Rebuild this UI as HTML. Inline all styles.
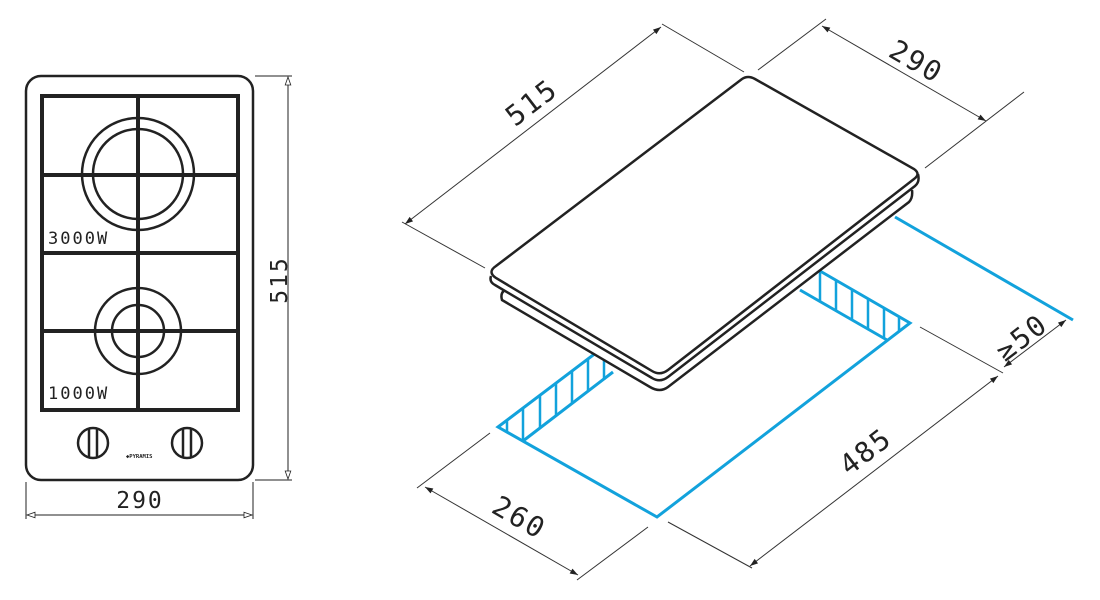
<!DOCTYPE html>
<html><head><meta charset="utf-8"><style>
html,body{margin:0;padding:0;background:#fff;}
svg{display:block;}
text{font-family:"DejaVu Sans Mono","Liberation Mono",monospace;fill:#222;}
</style></head><body>
<svg width="1100" height="600" viewBox="0 0 1100 600" xmlns="http://www.w3.org/2000/svg">
<defs>
<marker id="a" viewBox="0 0 10 10" refX="10" refY="5" markerWidth="12" markerHeight="8" orient="auto-start-reverse" markerUnits="userSpaceOnUse"><path d="M0,1.5 L10,5 L0,8.5 z" fill="#222"/></marker>
<marker id="o" viewBox="0 0 10 10" refX="10" refY="5" markerWidth="12" markerHeight="8" orient="auto-start-reverse" markerUnits="userSpaceOnUse"><path d="M0,1.5 L10,5 L0,8.5 z" fill="#fff" stroke="#222" stroke-width="1"/></marker>
</defs>
<!-- LEFT VIEW -->
<rect x="26" y="76" width="227" height="404" rx="15" fill="none" stroke="#222" stroke-width="2.5"/>
<rect x="42" y="96" width="196" height="314" fill="none" stroke="#222" stroke-width="4"/>
<circle cx="138" cy="174" r="56" fill="none" stroke="#222" stroke-width="2.5"/>
<circle cx="138" cy="174" r="45" fill="none" stroke="#222" stroke-width="2.5"/>
<circle cx="138" cy="331" r="43" fill="none" stroke="#222" stroke-width="2.5"/>
<circle cx="138" cy="331" r="26" fill="none" stroke="#222" stroke-width="2.5"/>
<line x1="138" y1="96" x2="138" y2="410" stroke="#222" stroke-width="4"/>
<line x1="42" y1="175" x2="238" y2="175" stroke="#222" stroke-width="4"/>
<line x1="42" y1="253" x2="238" y2="253" stroke="#222" stroke-width="4"/>
<line x1="42" y1="331" x2="238" y2="331" stroke="#222" stroke-width="4"/>
<text x="48" y="244" font-size="17" letter-spacing="2">3000W</text>
<text x="48" y="399" font-size="17" letter-spacing="2">1000W</text>
<g fill="none" stroke="#222" stroke-width="2.5">
<circle cx="93" cy="443" r="15"/><line x1="89" y1="429" x2="89" y2="457"/><line x1="97" y1="429" x2="97" y2="457"/>
<circle cx="187" cy="443" r="15"/><line x1="183" y1="429" x2="183" y2="457"/><line x1="191" y1="429" x2="191" y2="457"/>
</g>
<text x="126" y="458" font-size="5.5" font-family="Liberation Sans" font-weight="bold">◆PYRAMIS</text>
<!-- left dims -->
<g stroke="#222" stroke-width="1" fill="none">
<line x1="255" y1="76" x2="292" y2="76"/><line x1="255" y1="480" x2="292" y2="480"/>
<line x1="288" y1="77" x2="288" y2="479" marker-start="url(#o)" marker-end="url(#o)"/>
<line x1="26" y1="482" x2="26" y2="519"/><line x1="253" y1="482" x2="253" y2="519"/>
<line x1="27" y1="515" x2="252" y2="515" marker-start="url(#o)" marker-end="url(#o)"/>
</g>
<text x="279" y="280" font-size="23" text-anchor="middle" letter-spacing="2" transform="rotate(-90 279 280)" dy="8">515</text>
<text x="140" y="508" font-size="23" text-anchor="middle" letter-spacing="2">290</text>
<!-- RIGHT VIEW: blue cutout -->
<g stroke="#12a2dc" stroke-width="3" fill="none" stroke-linejoin="miter">
<path d="M613,340 L498,427 L657,517 L910,323 L820,271"/>
<path d="M523,441 L613,372"/>
<path d="M887,340 L800,290"/>
<path d="M895,217 L1073,320"/>
<g stroke-width="2.5">
<line x1="507" y1="420" x2="507" y2="432"/><line x1="523" y1="408" x2="523" y2="441"/><line x1="540" y1="395" x2="540" y2="428"/><line x1="556" y1="383" x2="556" y2="416"/><line x1="572" y1="371" x2="572" y2="404"/><line x1="588" y1="359" x2="588" y2="392"/><line x1="604" y1="347" x2="604" y2="380"/>
<line x1="820" y1="271" x2="820" y2="301"/><line x1="836" y1="280" x2="836" y2="310"/><line x1="852" y1="289" x2="852" y2="320"/><line x1="868" y1="298" x2="868" y2="329"/><line x1="884" y1="308" x2="884" y2="338"/><line x1="899" y1="317" x2="899" y2="331"/>
</g>
</g>
<!-- hob -->
<path d="M505,290 Q500,293 502,300 L650,387 Q660,393 668,387 L909,202 Q913,198 912,190" fill="#fff" stroke="#222" stroke-width="2.5"/>
<path d="M491,276 Q489,282 495,285 L652,378 Q660,383 668,377 L915,186 Q920,182 918,174" fill="#fff" stroke="#222" stroke-width="2.5"/>
<path d="M496,266 L742,79 Q748,75 755,79 L914,169 Q921,174 914,179 L668,370 Q660,376 652,371 L496,278 Q487,272 496,266 Z" fill="#fff" stroke="#222" stroke-width="2.5"/>
<!-- right dims -->
<g stroke="#333" stroke-width="1" fill="none">
<line x1="485" y1="268" x2="402" y2="222"/><line x1="744" y1="72" x2="662" y2="24"/>
<line x1="405" y1="224" x2="661" y2="27" marker-start="url(#a)" marker-end="url(#a)"/>
<line x1="758" y1="70" x2="826" y2="19"/><line x1="925" y1="168" x2="1024" y2="92"/>
<line x1="822" y1="26" x2="986" y2="121" marker-start="url(#a)" marker-end="url(#a)"/>
<line x1="920" y1="327" x2="1003" y2="373"/>
<line x1="1004" y1="367" x2="1066" y2="320" marker-start="url(#a)" marker-end="url(#a)"/>
<line x1="998" y1="376" x2="750" y2="566" marker-start="url(#a)" marker-end="url(#a)"/>
<line x1="668" y1="522" x2="752" y2="568"/>
<line x1="490" y1="433" x2="417" y2="488"/><line x1="648" y1="527" x2="577" y2="580"/>
<line x1="425" y1="487" x2="578" y2="575" marker-start="url(#a)" marker-end="url(#a)"/>
</g>
<g font-size="28" letter-spacing="2">
<text x="532" y="103" text-anchor="middle" transform="rotate(-37.5 532 103)" dy="9">515</text>
<text x="916" y="62" text-anchor="middle" transform="rotate(30 916 62)" dy="9">290</text>
<text x="1022" y="338" text-anchor="middle" transform="rotate(-37.5 1022 338)" dy="9">≥50</text>
<text x="866" y="452" text-anchor="middle" transform="rotate(-37.5 866 452)" dy="9">485</text>
<text x="519" y="518" text-anchor="middle" transform="rotate(30 519 518)" dy="9">260</text>
</g>
</svg>
</body></html>
